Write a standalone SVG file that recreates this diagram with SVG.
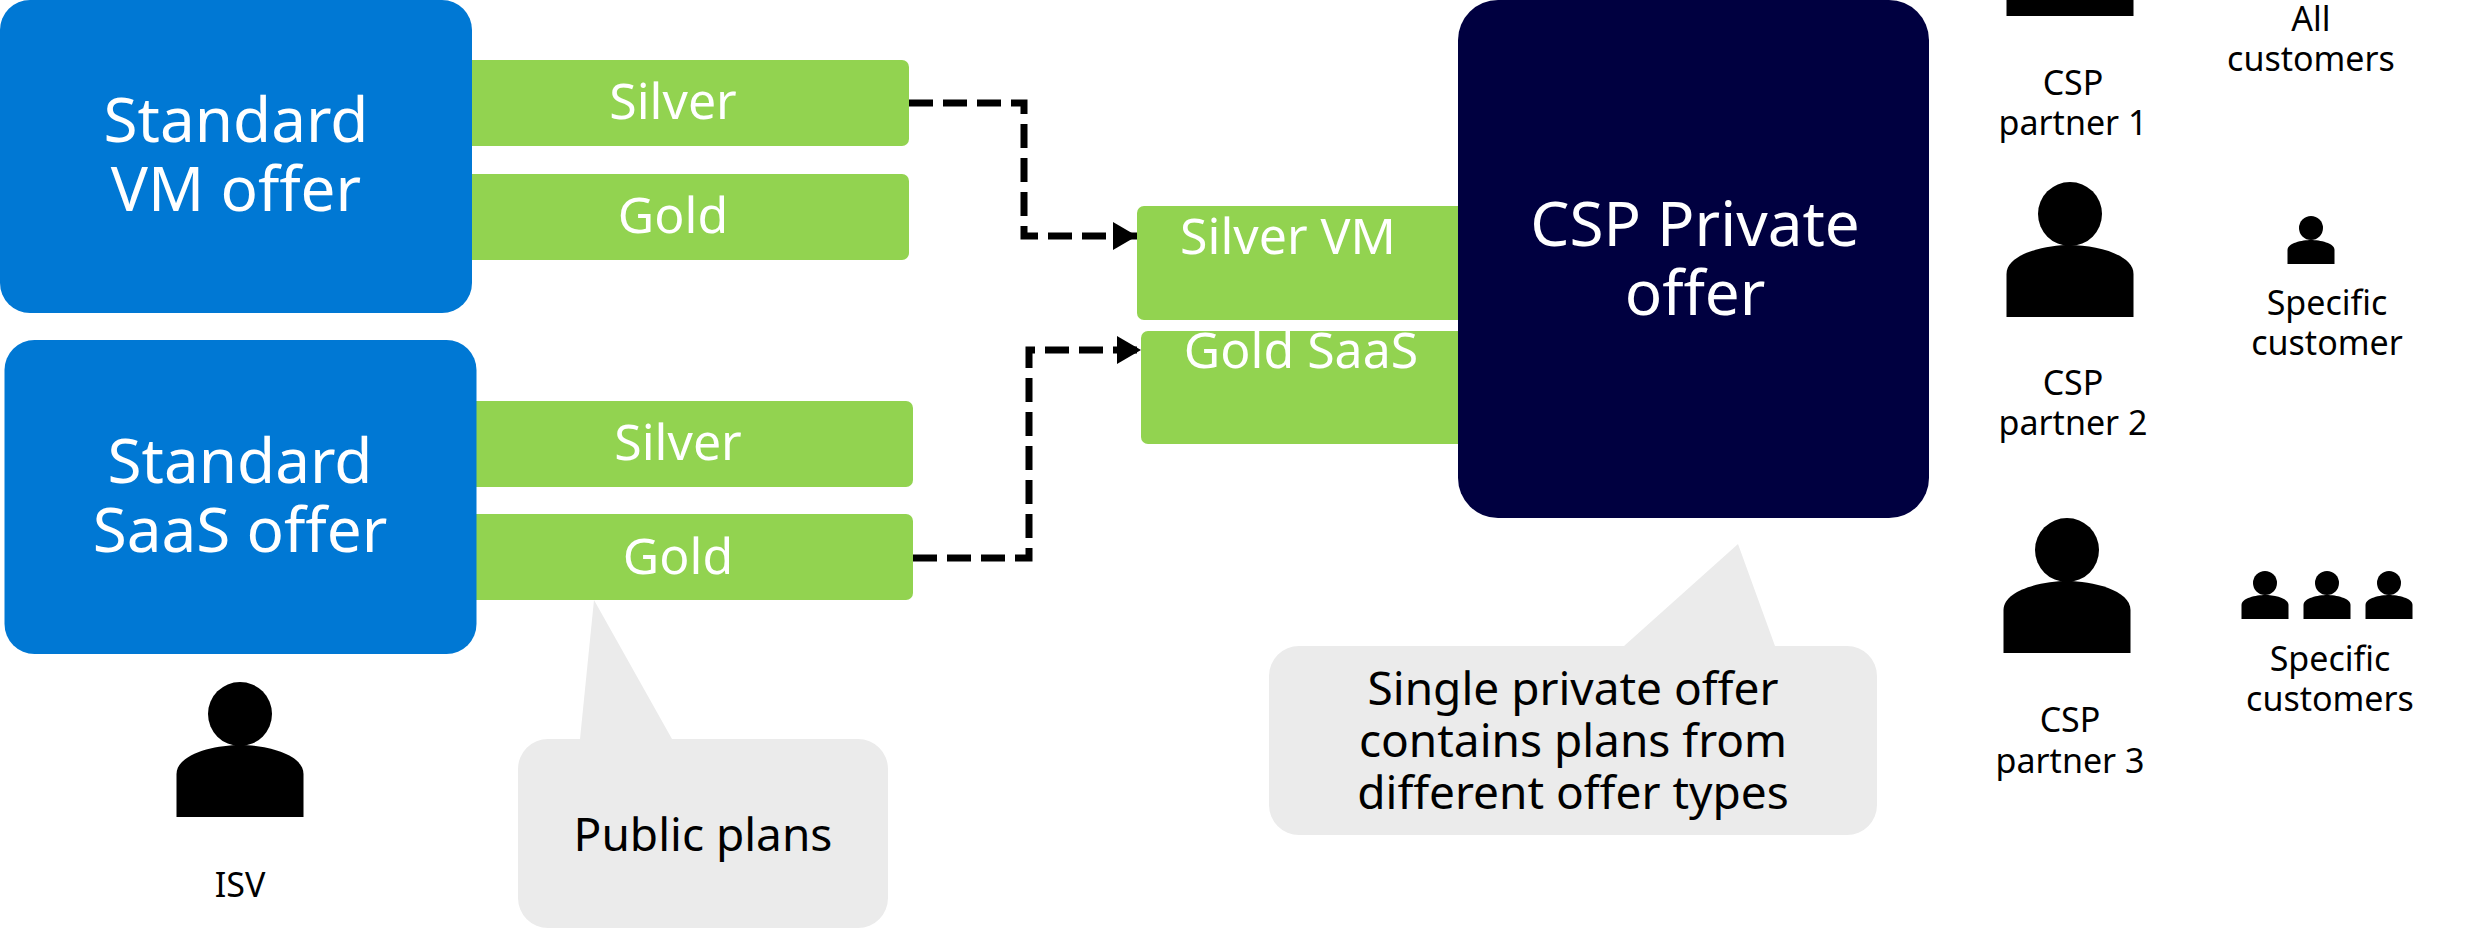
<svg xmlns="http://www.w3.org/2000/svg" width="2482" height="932" viewBox="0 0 2482 932">
<style>
text{font-family:"Noto Sans","Open Sans","Liberation Sans",sans-serif;text-anchor:middle}
.w{fill:#fff}.k{fill:#000}
.t1{font-size:62px}.t2{font-size:50px}.t3{font-size:46px}.t4{font-size:34px}
.blue{fill:#0078d4}.green{fill:#92d350}.navy{fill:#000040}.grey{fill:#ebebeb}
.conn{fill:none;stroke:#000;stroke-width:7;stroke-dasharray:24 10}
</style>
<defs>
<marker id="arrow" markerUnits="userSpaceOnUse" markerWidth="26" markerHeight="30" refX="24" refY="14" orient="auto"><path d="M0 0L24 14L0 28Z" fill="#000"/></marker>
<path id="person" d="M-63.500 63V20C-63.500 0-25 -9 0 -9S63.500 0 63.500 20V63Z"/>
<path id="mini" d="M-23.500 23V9C-23.500 2-9 -1 0 -1S23.500 2 23.500 9V23Z"/>
</defs>
<rect width="2482" height="932" fill="#fff"/>
<g id="offer-vm"><rect class="green" x="450" y="60" width="459" height="86" rx="7"/><rect class="green" x="450" y="174" width="459" height="86" rx="7"/><rect class="blue" x="0" y="0" width="472" height="313" rx="30"/><text class="w t1" x="236" y="142">Standard</text><text class="w t1" x="236" y="211">VM offer</text><text class="w t2" x="673" y="119">Silver</text><text class="w t2" x="673" y="233">Gold</text></g>
<g id="offer-saas"><rect class="green" x="450" y="401" width="463" height="86" rx="7"/><rect class="green" x="450" y="514" width="463" height="86" rx="7"/><rect class="blue" x="4.500" y="340" width="472" height="314" rx="30"/><text class="w t1" x="240" y="483">Standard</text><text class="w t1" x="240" y="552">SaaS offer</text><text class="w t2" x="678" y="460">Silver</text><text class="w t2" x="678" y="574">Gold</text></g>
<g id="isv"><circle cx="240" cy="714" r="32"/><use href="#person" x="240" y="754"/><text class="k t4" x="240" y="897">ISV</text></g>
<g id="public-plans"><path class="grey" d="M548 739H580L594 600L672 739H858A30 30 0 0 1 888 769V898A30 30 0 0 1 858 928H548A30 30 0 0 1 518 898V769A30 30 0 0 1 548 739Z"/><text class="k t3" x="703" y="851">Public plans</text></g>
<g id="csp-offer"><rect class="green" x="1137" y="206" width="360" height="114" rx="7"/><rect class="green" x="1141" y="331" width="360" height="113" rx="7"/><rect class="navy" x="1458" y="0" width="471" height="518" rx="40"/><text class="w t2" x="1288" y="254">Silver VM</text><text class="w t2" x="1301" y="368">Gold SaaS</text><text class="w t1" x="1695" y="246">CSP Private</text><text class="w t1" x="1695" y="315">offer</text></g>
<g id="private-callout"><path class="grey" d="M1299 646H1624L1738 544L1775 646H1847A30 30 0 0 1 1877 676V805A30 30 0 0 1 1847 835H1299A30 30 0 0 1 1269 805V676A30 30 0 0 1 1299 646Z"/><text class="k t3" x="1573" y="705">Single private offer</text><text class="k t3" x="1573" y="757">contains plans from</text><text class="k t3" x="1573" y="809">different offer types</text></g>
<g id="partner-1"><circle cx="2070" cy="-87" r="32"/><use href="#person" x="2070" y="-47"/><text class="k t4" x="2073" y="95">CSP</text><text class="k t4" x="2073" y="135">partner 1</text></g>
<g id="partner-2"><circle cx="2070" cy="214" r="32"/><use href="#person" x="2070" y="254"/><text class="k t4" x="2073" y="395">CSP</text><text class="k t4" x="2073" y="435">partner 2</text></g>
<g id="partner-3"><circle cx="2067" cy="550" r="32"/><use href="#person" x="2067" y="590"/><text class="k t4" x="2070" y="732">CSP</text><text class="k t4" x="2070" y="773">partner 3</text></g>
<g id="all-customers"><text class="k t4" x="2311" y="31">All</text><text class="k t4" x="2311" y="71">customers</text></g>
<g id="specific-customer"><circle cx="2311" cy="228" r="12"/><use href="#mini" x="2311" y="241"/><text class="k t4" x="2327" y="315">Specific</text><text class="k t4" x="2327" y="355">customer</text></g>
<g id="specific-customers"><circle cx="2265" cy="583" r="12"/><use href="#mini" x="2265" y="596"/><circle cx="2327" cy="583" r="12"/><use href="#mini" x="2327" y="596"/><circle cx="2389" cy="583" r="12"/><use href="#mini" x="2389" y="596"/><text class="k t4" x="2330" y="671">Specific</text><text class="k t4" x="2330" y="711">customers</text></g>
<g id="connectors"><path class="conn" marker-end="url(#arrow)" d="M909 103H1024V236H1137"/><path class="conn" marker-end="url(#arrow)" d="M913 558H1029V350H1141"/></g>
</svg>
